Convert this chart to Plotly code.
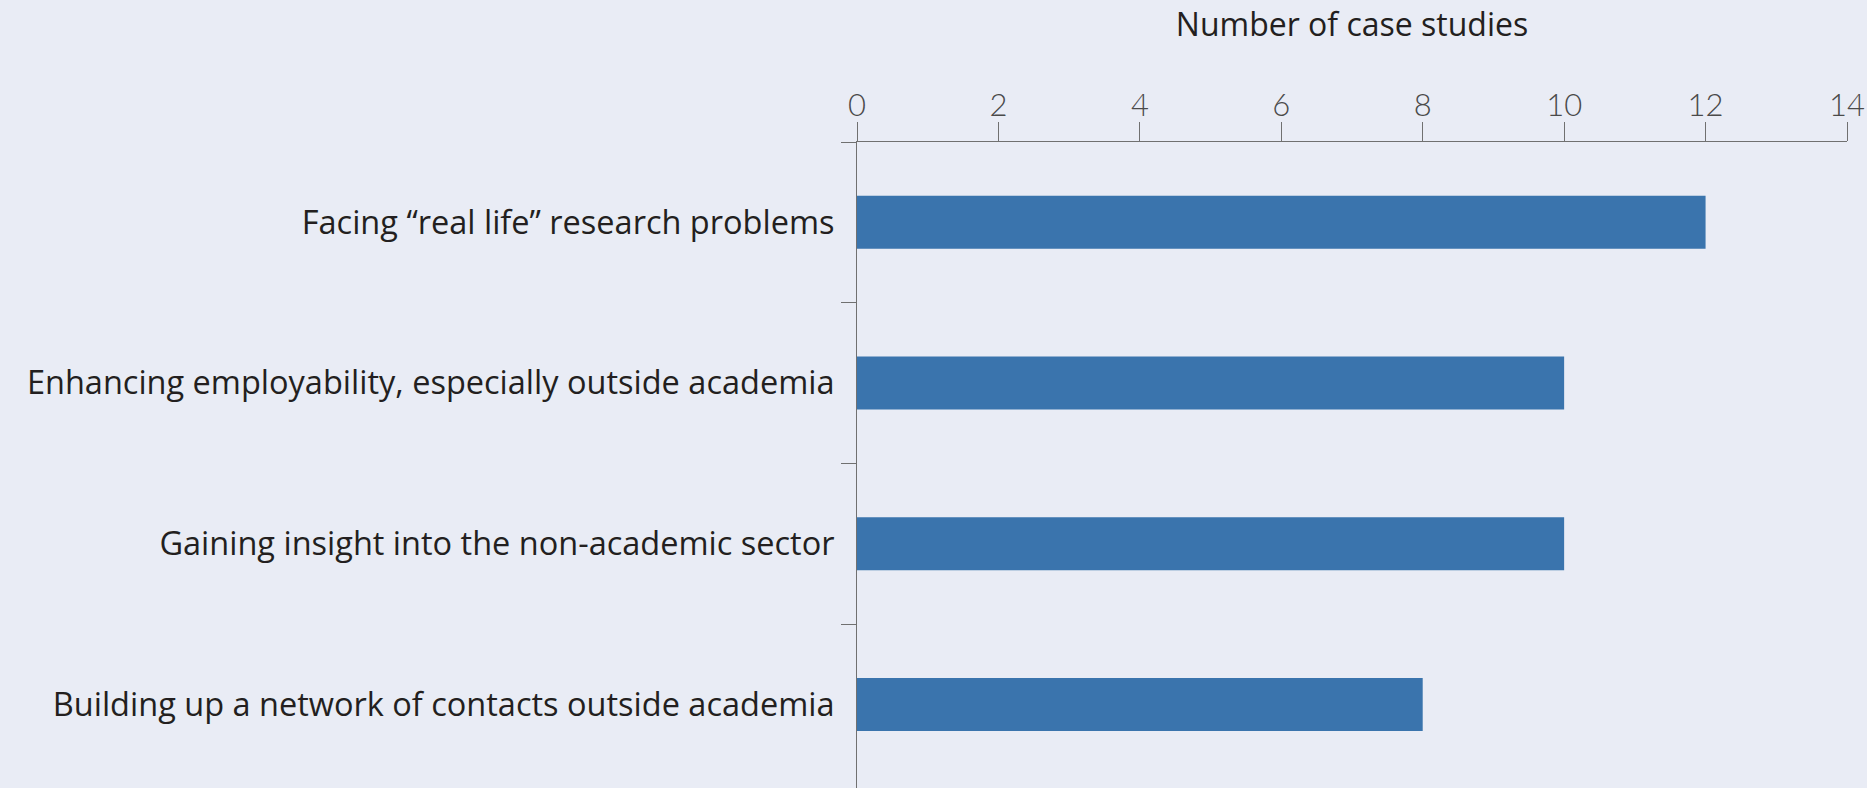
import plotly.graph_objects as go

categories = [
    "Facing \u201creal life\u201d research problems",
    "Enhancing employability, especially outside academia",
    "Gaining insight into the non-academic sector",
    "Building up a network of contacts outside academia",
]
values = [12, 10, 10, 8]
x_ticks = [0, 2, 4, 6, 8, 10, 12, 14]
x_title = "Number of case studies"

BG = "#e9ecf5"
BAR = "#3a74ad"
AXIS = "#707070"
TEXT = "#231f20"
LABEL_FONT = "Open Sans"
TICK_FONT = "Lato"

fig = go.Figure(
    go.Bar(
        x=values,
        y=categories,
        orientation="h",
        width=0.33,
        marker=dict(color=BAR, line=dict(width=0)),
        hoverinfo="x+y",
    )
)

fig.update_layout(
    width=1867,
    height=788,
    paper_bgcolor=BG,
    plot_bgcolor=BG,
    margin=dict(l=857, r=20, t=142, b=0, pad=0),
    showlegend=False,
    font=dict(family=LABEL_FONT, color=TEXT),
)

fig.update_xaxes(
    side="top",
    range=[0, 14],
    tickvals=x_ticks,
    ticktext=[str(v) for v in x_ticks],
    ticks="outside",
    ticklen=19,
    tickwidth=1,
    tickcolor=AXIS,
    showline=True,
    linecolor=AXIS,
    linewidth=1,
    showgrid=False,
    zeroline=False,
    ticklabelstandoff=-6,
    tickfont=dict(family=TICK_FONT, size=31, color="#4a4a4a", weight=300),
    title=dict(text=x_title, font=dict(family=LABEL_FONT, size=32, color=TEXT), standoff=38),
)

fig.update_yaxes(
    type="category",
    categoryorder="array",
    categoryarray=categories,
    range=[3.52, -0.5],
    tickson="boundaries",
    ticks="outside",
    ticklen=15,
    tickwidth=1,
    tickcolor=AXIS,
    showline=True,
    linecolor=AXIS,
    linewidth=1,
    showgrid=False,
    zeroline=False,
    ticklabelstandoff=15,
    tickfont=dict(family=LABEL_FONT, size=32.5, color=TEXT),
)

fig.write_html(
    "out.html",
    config={"displayModeBar": False},
    post_script=[
        "document.body.style.margin='0';document.body.style.overflow='hidden';"
        "document.body.style.background='" + BG + "';"
    ],
)
